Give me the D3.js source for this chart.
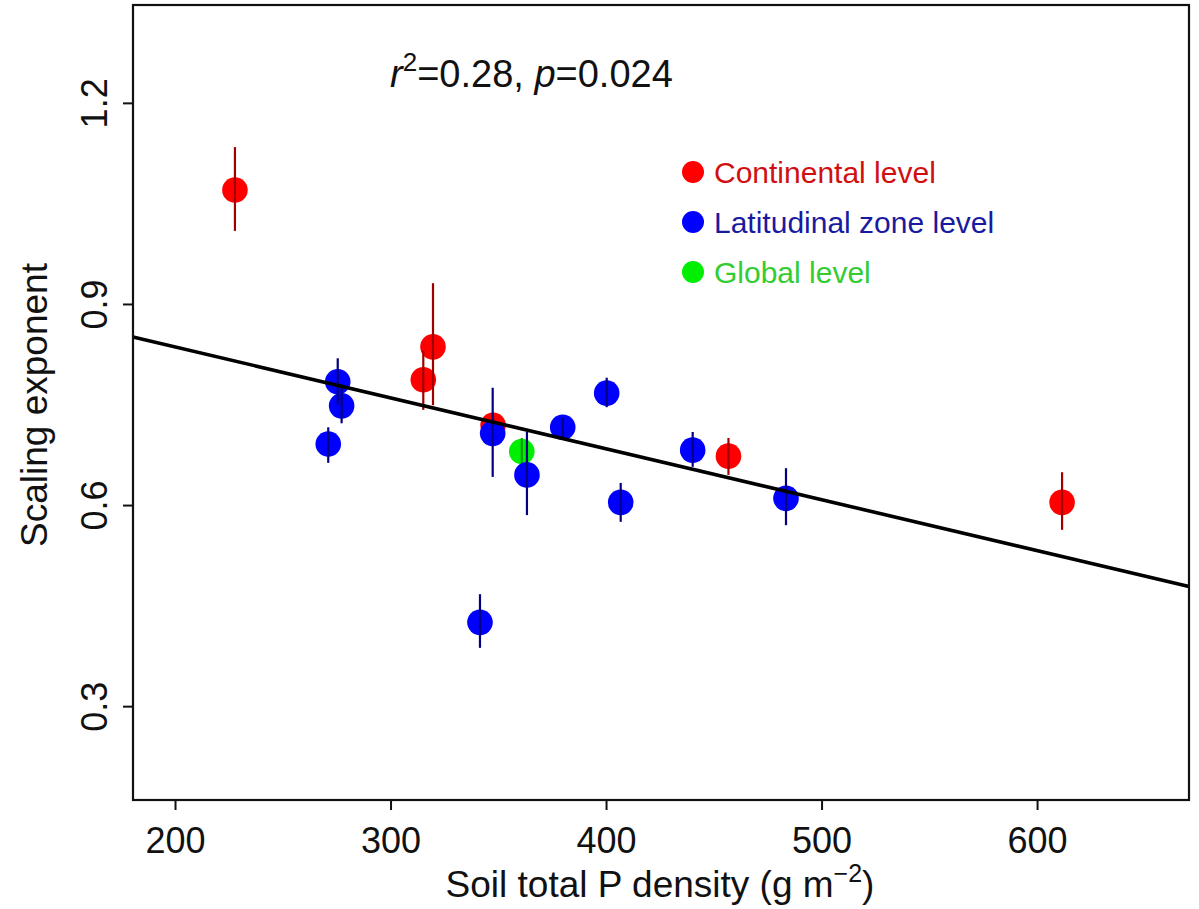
<!DOCTYPE html>
<html>
<head>
<meta charset="utf-8">
<script src="https://cdn.jsdelivr.net/npm/d3@7"></script>
<style>
  html, body { margin: 0; padding: 0; background: #fff; }
  svg text { font-family: "Liberation Sans", Arial, Helvetica, sans-serif; }
</style>
</head>
<body>
<svg id="chart" width="1199" height="909"></svg>
<script>
// ---- data ----
const groups = ["Continental level", "Latitudinal zone level", "Global level"];
const groupColors = ["#ff0000", "#0000ff", "#00ee00"];
const groupBarColors = ["#a00000", "#000080", "#00a000"];
const legendTextColors = ["#d01010", "#1a1aa0", "#33cc33"];

// Continental level
const contX   = [227.8, 319.7, 315.2, 347.6, 456.8, 611.6];
const contY   = [1.070, 0.836, 0.787, 0.719, 0.673, 0.604];
const contLo  = [1.009, 0.749, 0.742, 0.705, 0.645, 0.563];
const contHi  = [1.134, 0.931, 0.830, 0.733, 0.700, 0.649];

// Latitudinal zone level
const latX  = [275.5, 277.3, 271.1, 347.4, 363.3, 379.9, 400.3, 406.8, 440.2, 483.5, 341.5];
const latY  = [0.784, 0.748, 0.691, 0.707, 0.645, 0.716, 0.767, 0.604, 0.682, 0.610, 0.425];
const latLo = [0.750, 0.722, 0.663, 0.642, 0.585, 0.700, 0.746, 0.575, 0.657, 0.570, 0.387];
const latHi = [0.819, 0.775, 0.716, 0.775, 0.709, 0.730, 0.790, 0.633, 0.709, 0.655, 0.467];

// Global level
const globX  = [360.9];
const globY  = [0.680];
const globLo = [0.660];
const globHi = [0.700];

// Regression line: y = intercept + slope * x
const fitCoef = [0.988, -0.00076];

const xTicks = [200, 300, 400, 500, 600];
const yTicks = [0.3, 0.6, 0.9, 1.2];
const statText = { r2: "0.28", p: "0.024" };

// ---- layout ----
const svg = d3.select("#chart");
const plot = { left: 133, right: 1189, top: 5, bottom: 800 };
const x = d3.scaleLinear().domain([180.5, 670.5]).range([plot.left, plot.right]);
const y = d3.scaleLinear().domain([0.16, 1.346]).range([plot.bottom, plot.top]);

const series = [
  { xs: contX, ys: contY, lo: contLo, hi: contHi, g: 0 },
  { xs: globX, ys: globY, lo: globLo, hi: globHi, g: 2 },
  { xs: latX,  ys: latY,  lo: latLo,  hi: latHi,  g: 1 }
];

const dots = svg.append("g");
series.forEach(s => {
  const d = s.xs.map((v, i) => ({ x: v, y: s.ys[i], lo: s.lo[i], hi: s.hi[i] }));
  const g = dots.append("g");
  g.selectAll("circle").data(d).enter().append("circle")
    .attr("cx", p => x(p.x)).attr("cy", p => y(p.y)).attr("r", 12.8)
    .attr("fill", groupColors[s.g]);
  g.selectAll("line").data(d).enter().append("line")
    .attr("x1", p => x(p.x)).attr("x2", p => x(p.x))
    .attr("y1", p => y(p.lo)).attr("y2", p => y(p.hi))
    .attr("stroke", groupBarColors[s.g]).attr("stroke-width", 2.2);
});

// regression line
const xd = x.domain();
svg.append("line")
  .attr("x1", x(xd[0])).attr("y1", y(fitCoef[0] + fitCoef[1] * xd[0]))
  .attr("x2", x(xd[1])).attr("y2", y(fitCoef[0] + fitCoef[1] * xd[1]))
  .attr("stroke", "#000").attr("stroke-width", 3.6);

// frame
svg.append("rect")
  .attr("x", plot.left).attr("y", plot.top)
  .attr("width", plot.right - plot.left).attr("height", plot.bottom - plot.top)
  .attr("fill", "none").attr("stroke", "#111").attr("stroke-width", 2.2);

// x axis
const xAxis = d3.axisBottom(x).tickValues(xTicks).tickSize(10).tickPadding(17).tickFormat(d3.format("d"));
const gx = svg.append("g").attr("transform", `translate(0,${plot.bottom})`).call(xAxis);
gx.select(".domain").remove();
gx.selectAll(".tick line").attr("stroke", "#111").attr("stroke-width", 2);
gx.selectAll(".tick text").attr("font-size", 36).attr("fill", "#111")
  .attr("font-family", "'Liberation Sans', Arial, sans-serif");

// y axis
const yAxis = d3.axisLeft(y).tickValues(yTicks).tickSize(10).tickFormat(d3.format(".1f"));
const gy = svg.append("g").attr("transform", `translate(${plot.left},0)`).call(yAxis);
gy.select(".domain").remove();
gy.selectAll(".tick line").attr("stroke", "#111").attr("stroke-width", 2);
gy.selectAll(".tick text")
  .attr("x", 0).attr("dy", null).attr("y", 0)
  .attr("text-anchor", "middle")
  .attr("transform", "translate(-26,0) rotate(-90)")
  .attr("font-size", 36).attr("fill", "#111")
  .attr("font-family", "'Liberation Sans', Arial, sans-serif");

// axis titles
const xt = svg.append("text").attr("x", 660).attr("y", 897)
  .attr("text-anchor", "middle").attr("font-size", 37).attr("fill", "#111");
xt.append("tspan").text("Soil total P density (g m");
xt.append("tspan").attr("dy", -15).attr("font-size", 25).text("\u22122");
xt.append("tspan").attr("dy", 15).text(")");

svg.append("text")
  .attr("transform", "translate(47,405) rotate(-90)")
  .attr("text-anchor", "middle").attr("font-size", 37).attr("fill", "#111")
  .text("Scaling exponent");

// stats annotation
const st = svg.append("text").attr("x", 390).attr("y", 87)
  .attr("font-size", 38).attr("fill", "#111");
st.append("tspan").attr("font-style", "italic").text("r");
st.append("tspan").attr("dy", -16).attr("font-size", 26).text("2");
st.append("tspan").attr("dy", 16).text("=" + statText.r2 + ", ");
st.append("tspan").attr("font-style", "italic").text("p");
st.append("tspan").text("=" + statText.p);

// legend
const lg = svg.append("g");
groups.forEach((name, i) => {
  const cy = 172 + i * 50;
  lg.append("circle").attr("cx", 693).attr("cy", cy).attr("r", 11).attr("fill", groupColors[i]);
  lg.append("text").attr("x", 714).attr("y", cy + 11)
    .attr("font-size", 30).attr("fill", legendTextColors[i]).text(name);
});
</script>
</body>
</html>
